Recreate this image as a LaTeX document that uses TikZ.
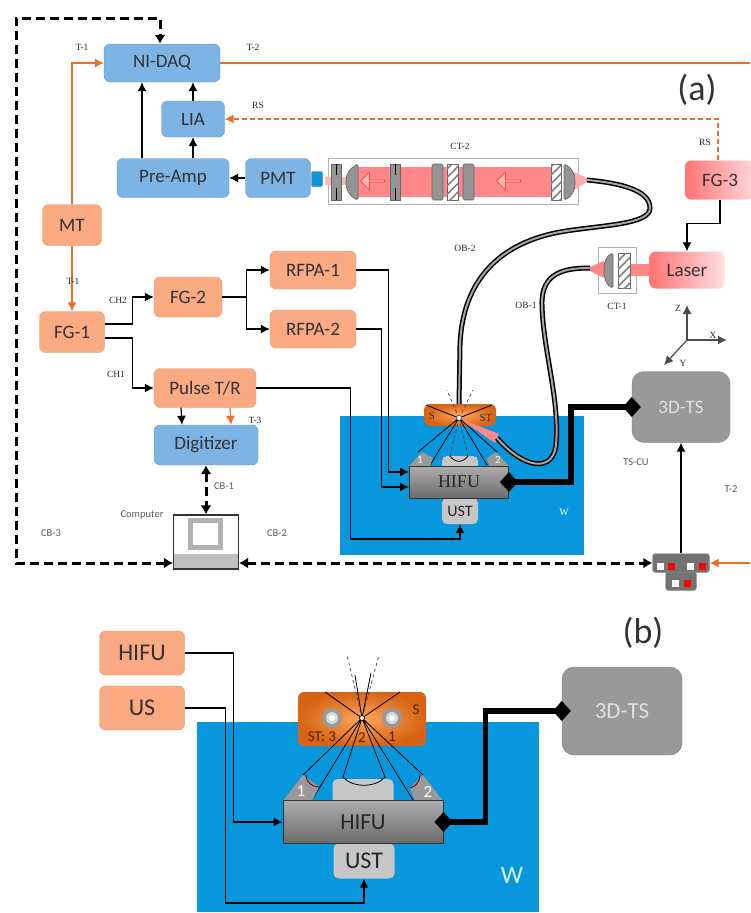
\documentclass[tikz,border=0pt]{standalone}
\usepackage{fontspec}
\setmainfont{Carlito}
\newfontfamily\labfont{Liberation Serif}
\usetikzlibrary{positioning,arrows.meta,shapes.arrows,patterns.meta}
\definecolor{boxblue}{RGB}{125,180,228}
\definecolor{edgeblue}{RGB}{95,150,205}
\definecolor{boxorange}{RGB}{250,170,130}
\definecolor{edgeorange}{RGB}{240,145,105}
\definecolor{wireorange}{RGB}{235,110,40}
\definecolor{water}{RGB}{8,150,220}
\definecolor{beam}{RGB}{255,135,135}
\definecolor{inktext}{RGB}{50,50,55}
\definecolor{holderin}{RGB}{255,165,90}
\definecolor{holderout}{RGB}{215,100,20}
\definecolor{flowfill}{RGB}{250,190,170}
\tikzset{
  bluebox/.style={draw=edgeblue,fill=boxblue,rounded corners=6pt,font=\fontsize{19}{21}\selectfont,text=inktext},
  orangebox/.style={draw=edgeorange,fill=boxorange,rounded corners=6pt,font=\fontsize{19}{21}\selectfont,text=inktext},
  graybox/.style={draw=black!50,fill=black!40,rounded corners=12pt,text=black!12},
  hifubox/.style={draw=black!80,line width=1pt,top color=black!32,bottom color=black!58,text=black!85,inner sep=0pt},
  ustbox/.style={fill=black!22,rounded corners=5pt,text=black!85,inner sep=0pt},
  sample/.style={rounded corners=6pt,inner color=holderin,outer color=holderout,inner sep=0pt},
  wire/.style={draw=black,line width=1.2pt,-{Latex[length=9pt,width=9pt]}},
  owire/.style={draw=wireorange,line width=1.2pt,-{Latex[length=9pt,width=9pt]}},
  cable/.style={draw=black,line width=3pt,dash pattern=on 9pt off 5pt,{Latex[length=9pt,width=11pt]}-{Latex[length=9pt,width=11pt]}},
  stage/.style={draw=black,line width=5.5pt,{Diamond[length=18pt,width=20pt]}-{Diamond[length=18pt,width=20pt]},shorten <=-9pt,shorten >=-9pt},
  fiber/.style={draw=black,line width=1.5pt,double=black!35,double distance=2pt},
  optic/.style={draw=black!60,fill=black!42,rounded corners=1.5pt,line width=.7pt},
  hatched/.style={draw=black!60,fill=white,postaction={pattern={Lines[angle=45,distance=6pt,line width=1.6pt]},pattern color=black!50},line width=.7pt},
  ray/.style={draw=black,line width=.8pt},
  lab/.style={font=\labfont\fontsize{9.5}{11}\selectfont,text=black!85,inner sep=0pt},
  sanslab/.style={font=\fontsize{10.5}{12}\selectfont,text=black!65,inner sep=0pt},
  flowarrow/.style={single arrow,draw=red!75,fill=flowfill,shape border rotate=180,inner sep=0pt,
    minimum width=18pt,minimum height=24pt,single arrow head extend=3pt,line width=.7pt},
  swunit/.style={fill=black!55,draw=black!40,rounded corners=3pt,inner sep=0pt},
}
\begin{document}
\begin{tikzpicture}[x=1pt,y=-1pt,on grid,node distance=50pt]
  \useasboundingbox (0,0) rectangle (750,913);
  % panel a: water and holder
  \fill[water] (340,416) rectangle (584,555);
  \node[ustbox,minimum width=36pt,minimum height=14pt] (TopA) at (460,463) {};
  \node[sample,minimum width=72pt,minimum height=22pt] (SampleA) at (460,415) {};
  \node[font=\labfont\fontsize{11}{12}\selectfont,text=inktext] (SA) at (432,416) {S};
  \node[font=\labfont\fontsize{11}{12}\selectfont,text=inktext] (STA) at (486,418) {ST};
  \node[ustbox,minimum width=36pt,minimum height=26pt,font=\fontsize{16}{18}\selectfont] (USTA) at (460,511) {UST};
  \coordinate (FocusA) at (459,418);
  % rays a
  \fill[beam] (FocusA) -- (495,443) -- (499,434) -- cycle;
  \draw[ray,black!70,dashed] (FocusA) -- (447,390) (FocusA) -- (473,390);
  \draw[ray,black!70,dashed] (FocusA) -- (450,456) (FocusA) -- (468,456);
  \draw[ray] (450,456) .. controls (455,463) and (463,463) .. (468,456);
  \draw[ray] (426,405) -- (FocusA) -- (418,452) (FocusA) -- (430,465);
  \draw[ray] (492,405) -- (FocusA) -- (497,452) (FocusA) -- (487,465);
  \fill[black!40] (409,466) -- (422,452) -- (433,458) -- (430,466) -- cycle;
  \fill[black!40] (509,466) -- (496,452) -- (487,458) -- (489,466) -- cycle;
  \node[font=\fontsize{11}{12}\selectfont,text=white] (OneA) at (420,460) {1};
  \node[font=\fontsize{11}{12}\selectfont,text=white] (TwoA) at (498,460) {2};
  \node[hifubox,minimum width=99pt,minimum height=32pt,font=\labfont\fontsize{18}{20}\selectfont] (HIFUA) at (459,482) {HIFU};
  \fill[white,draw=black!70,line width=.6pt] (FocusA) circle (2.5pt);
  \node[lab,text=white,font=\labfont\fontsize{10}{12}\selectfont] (WA) at (564,512) {W};

  % boxes a
  \node[bluebox,minimum width=116pt,minimum height=38pt] (NIDAQ) at (162,63) {NI-DAQ};
  \node[bluebox,minimum width=63pt,minimum height=36pt] (LIA) at (193,119) {LIA};
  \node[bluebox,minimum width=112pt,minimum height=39pt] (PreAmp) at (173,178) {Pre-Amp};
  \node[bluebox,minimum width=65pt,minimum height=39pt] (PMT) [right=105pt of PreAmp] {PMT};
  \node[draw=edgeblue!70!black,fill=water,rounded corners=2pt,minimum width=11pt,minimum height=15pt] (Det) at (317,179) {};
  \node[orangebox,minimum width=59pt,minimum height=41pt] (MT) at (72,225) {MT};
  \node[orangebox,minimum width=65pt,minimum height=41pt] (FGone) at (72,332) {FG-1};
  \node[orangebox,minimum width=68pt,minimum height=40pt] (FGtwo) at (188,297) {FG-2};
  \node[orangebox,minimum width=86pt,minimum height=38pt] (RFPAone) at (313,270) {RFPA-1};
  \node[orangebox,minimum width=86pt,minimum height=38pt] (RFPAtwo) [below=59pt of RFPAone] {RFPA-2};
  \node[orangebox,minimum width=102pt,minimum height=39pt] (Pulse) at (205,388) {Pulse T/R};
  \node[bluebox,minimum width=104pt,minimum height=40pt] (Digitizer) at (206,445) {Digitizer};
  \node[draw=none,rounded corners=6pt,left color=red!55!white,right color=red!15!white,minimum width=70pt,minimum height=39pt,font=\fontsize{19}{21}\selectfont,text=inktext] (FGthree) at (720,180) {FG-3};
  \node[draw=none,rounded corners=6pt,left color=red!55!white,right color=red!12!white,minimum width=75pt,minimum height=37pt,font=\fontsize{19}{21}\selectfont,text=inktext] (Laser) at (687,270) {Laser};
  \node[graybox,minimum width=98pt,minimum height=71pt,font=\fontsize{19}{21}\selectfont] (StageA) at (681,407) {3D-TS};

  % computer
  \node[draw=black!80,fill=white,line width=1.2pt,minimum width=65pt,minimum height=54pt] (Computer) at (206,542) {};
  \fill[black!25] (174,554) rectangle (238,568);
  \draw[black!30,line width=5pt] (190,520) rectangle (220,547);

  % switch box
  \node[swunit,minimum width=31pt,minimum height=19pt] (SwitchLow) at (681,581) {};
  \node[swunit,minimum width=57pt,minimum height=19pt] (Switch) at (681,563) {};
  \foreach \x/\y/\c in {660/566/white,671/566/red,690/566/white,702/566/red,675/583/white,687/583/red}
    \fill[\c] (\x-3.5,\y-3.5) rectangle (\x+3.5,\y+3.5);

  % CT-2 train
  \node[draw=black!30,line width=1pt,minimum width=250pt,minimum height=46pt] (CTtwo) at (453,181) {};
  \fill[beam] (358,167) rectangle (555,197);
  \fill[beam!60] (325,177) rectangle (358,185);
  \fill[beam!70] (574,172) -- (587,178) -- (587,182) -- (574,190) -- cycle;
  \foreach \x in {331,390}
    {\fill[black!42,draw=black!60] (\x,164) rectangle (\x+10,200);
     \draw[black,line width=1pt] (\x+5,164) -- (\x+5,175) (\x+5,188) -- (\x+5,200);}
  \foreach \x in {432,463}
    \draw[optic] (\x,164) rectangle (\x+11,200);
  \draw[hatched] (447,164) rectangle (458,200);
  \draw[hatched] (551,164) rectangle (561,200);
  \draw[optic] (358,164) .. controls (350,168) and (346,174) .. (346,182) .. controls (346,190) and (350,197) .. (358,200) -- cycle;
  \draw[optic] (564,164) .. controls (572,168) and (575,174) .. (575,182) .. controls (575,190) and (572,197) .. (564,200) -- cycle;
  \node[flowarrow] (FlowL) at (373,181) {};
  \node[flowarrow] (FlowR) at (509,181) {};

  % CT-1
  \node[draw=black!30,line width=1pt,minimum width=38pt,minimum height=46pt] (CTone) at (617,270) {};
  \fill[beam] (630,264) rectangle (650,276);
  \fill[beam] (590,267) -- (604,261) -- (604,278) -- (590,271) -- cycle;
  \draw[optic] (613,253) .. controls (606,256) and (604,262) .. (604,270) .. controls (604,278) and (606,285) .. (613,288) -- cycle;
  \draw[hatched] (618,253) rectangle (630,288);

  % wires
  \draw[wire] (PreAmp.north -| 142,0) -- (NIDAQ.south -| 142,0);
  \draw[wire] (PreAmp.north -| LIA.south) -- (LIA.south);
  \draw[wire] (LIA.north) -- (NIDAQ.south -| LIA.north);
  \draw[wire] (PMT.west) -- (PreAmp.east);
  \draw[wire] ([yshift=8pt]FGone.east) -- ++(28,0) |- (FGtwo.west);
  \draw[wire] ([yshift=-6pt]FGone.east) -- ++(28,0) |- (Pulse.west);
  \draw[wire] (FGtwo.east) -- ++(24,0) |- (RFPAone.west);
  \draw[wire] (FGtwo.east) -- ++(24,0) |- (RFPAtwo.west);
  \draw[wire] (RFPAone.east) -- ++(32,0) |- ([yshift=10pt]HIFUA.west);
  \draw[wire] (RFPAtwo.east) -- ++(25,0) |- ([yshift=-5pt]HIFUA.west);
  \draw[wire] (Pulse.east) -- ++(94,0) |- (439,539) -| (USTA.south);
  \draw[wire] ([xshift=-24pt]Pulse.south) -- ([xshift=-24pt]Digitizer.north);
  \draw[owire] ([xshift=25pt]Pulse.south) -- ([xshift=25pt]Digitizer.north);
  \draw[wire] (FGthree.south) -- ++(0,24) -| (Laser.north);
  \draw[wire] (Switch.north) -- (StageA.south);

  % orange lines
  \draw[owire] (MT.north) |- (NIDAQ.west);
  \draw[owire] (MT.south) -- (FGone.north);
  \coordinate (FeedA) at (750,63);
  \draw[owire,arrows=-] (NIDAQ.east) -- (FeedA);
  \draw[owire,dash pattern=on 5pt off 3pt] ([xshift=-2pt]FGthree.north) |- (LIA.east);
  \coordinate (FeedB) at (750,563);
  \draw[owire] (FeedB) -- (Switch.east);

  % cables
  \coordinate (BendLow) at (16,563);
  \coordinate (BendUp) at (16,18);
  \draw[cable] ([yshift=-21pt]Computer.west) -- (BendLow) -- (BendUp) -| ([xshift=-2pt]NIDAQ.north);
  \draw[cable] ([yshift=-21pt]Computer.east) -- (Switch.west);
  \draw[cable] (Digitizer.south) -- (Computer.north);

  % stage a
  \draw[stage] (HIFUA.east) -- ++(62,0) |- (StageA.west);

  % fibres
  \coordinate (TipB) at (587,180);
  \coordinate (TipC) at (590,268);
  \coordinate (TipD) at (497,438);
  \draw[fiber] (TipB) .. controls (620,183) and (650,190) .. (650,208) .. controls (650,225) and (600,225) .. (560,232) .. controls (490,245) and (462,290) .. (460,345) -- (459,404);
  \draw[fiber] (TipC) .. controls (565,268) and (541,272) .. (542,305) .. controls (543,350) and (560,400) .. (556,445) .. controls (553,472) and (525,470) .. (TipD);

  % axes
  \coordinate (Origin) at (687,340);
  \coordinate (EndZ) at (687,305);
  \coordinate (EndX) at (727,340);
  \coordinate (EndY) at (664,365);
  \draw[wire,black!70] (Origin) -- (EndZ);
  \draw[wire,black!70] (Origin) -- (EndX);
  \draw[wire,black!70] (Origin) -- (EndY);
  \node[lab] (AxZ) at (678,308) {Z};
  \node[lab] (AxX) at (713,335) {X};
  \node[lab] (AxY) at (683,363) {Y};

  % labels a
  \node[font=\fontsize{36}{38}\selectfont,text=inktext] (Pa) at (697,90) {(a)};
  \node[lab] (TOneTop) at (82,47) {T-1};
  \node[lab] (TTwoTop) at (253,47) {T-2};
  \node[lab] (RSl) at (258,105) {RS};
  \node[lab] (RSr) at (705,142) {RS};
  \node[lab] (CTtwoLab) at (460,146) {CT-2};
  \node[lab] (OBtwo) at (465,248) {OB-2};
  \node[lab] (OBone) at (526,305) {OB-1};
  \node[lab] (CToneLab) at (617,306) {CT-1};
  \node[lab] (TOneLow) at (73,281) {T-1};
  \node[lab] (CHtwo) at (118,300) {CH2};
  \node[lab] (CHone) at (116,374) {CH1};
  \node[lab] (TThree) at (255,420) {T-3};
  \node[sanslab] (CBone) at (224,486) {CB-1};
  \node[sanslab] (CompLab) at (142,515) {Computer};
  \node[sanslab] (CBthree) at (51,533) {CB-3};
  \node[sanslab] (CBtwo) at (277,533) {CB-2};
  \node[sanslab] (TSCU) at (636,462) {TS-CU};
  \node[sanslab] (TTwoLow) at (731,489) {T-2};

  % panel b
  \fill[water] (197,722) rectangle (539,912);
  \node[ustbox,minimum width=61pt,minimum height=30pt] (TopB) at (363,794) {};
  \node[sample,minimum width=128pt,minimum height=54pt] (SampleB) at (362,719) {};
  \foreach \x in {332,392}
    {\fill[black!40] (\x,718) circle (10pt);
     \fill[black!15] (\x,718) circle (6pt);
     \fill[white] (\x,718) circle (3pt);}
  \node[font=\fontsize{15}{17}\selectfont,text=orange!30!black] (STB) at (322,737) {ST: 3};
  \node[font=\fontsize{15}{17}\selectfont,text=orange!30!black] (TwoST) at (362,738) {2};
  \node[font=\fontsize{15}{17}\selectfont,text=orange!30!black] (OneST) at (392,737) {1};
  \node[font=\fontsize{15}{17}\selectfont,text=orange!30!black] (SB) at (416,710) {S};
  \node[ustbox,minimum width=61pt,minimum height=35pt,font=\fontsize{24}{26}\selectfont] (USTB) at (364,861) {UST};
  \coordinate (FocusB) at (362,718);
  \draw[ray,black!70,dashed] (FocusB) -- (347,655) (FocusB) -- (379,655);
  \draw[ray] (FocusB) -- (355,675) (FocusB) -- (371,673);
  \draw[ray] (343,777) -- (FocusB) -- (385,777);
  \draw[ray] (343,777) .. controls (352,788) and (376,788) .. (385,777);
  \draw[ray] (325,692) -- (FocusB) -- (303,775) (FocusB) -- (312,800);
  \draw[ray] (400,692) -- (FocusB) -- (423,775) (FocusB) -- (413,800);
  \fill[black!40] (283,801) -- (303,775) -- (319,787) -- (312,801) -- cycle;
  \fill[black!40] (443,801) -- (423,775) -- (410,788) -- (415,801) -- cycle;
  \draw[ray,red!40!black] (306,775) .. controls (306,782) and (312,787) .. (319,787);
  \draw[ray,red!40!black] (420,775) .. controls (420,782) and (415,787) .. (410,788);
  \node[font=\fontsize{17}{19}\selectfont,text=white] (OneB) at (301,791) {1};
  \node[font=\fontsize{17}{19}\selectfont,text=white] (TwoB) at (428,792) {2};
  \node[hifubox,minimum width=160pt,minimum height=43pt,font=\fontsize{23}{25}\selectfont] (HIFUB) at (363,822) {HIFU};
  \fill[white,draw=black,line width=.7pt] (FocusB) circle (2.5pt);
  \node[font=\fontsize{25}{27}\selectfont,text=white!85!water] (WB) at (512,875) {W};
  \node[font=\fontsize{36}{38}\selectfont,text=inktext] (Pb) at (643,633) {(b)};
  \node[orangebox,minimum width=85pt,minimum height=44pt,font=\fontsize{24}{26}\selectfont] (HIFUin) at (142,653) {HIFU};
  \node[orangebox,minimum width=85pt,minimum height=44pt,font=\fontsize{24}{26}\selectfont] (USin) [below=55pt of HIFUin] {US};
  \node[graybox,minimum width=120pt,minimum height=88pt,font=\fontsize{23}{25}\selectfont] (StageB) at (622,711) {3D-TS};
  \draw[wire] (HIFUin.east) -- ++(49,0) |- (HIFUB.west);
  \draw[wire] (USin.east) -- ++(41,0) |- (300,903) -| (USTB.south);
  \draw[stage] (HIFUB.east) -- ++(42,0) |- (StageB.west);
\end{tikzpicture}
\end{document}
